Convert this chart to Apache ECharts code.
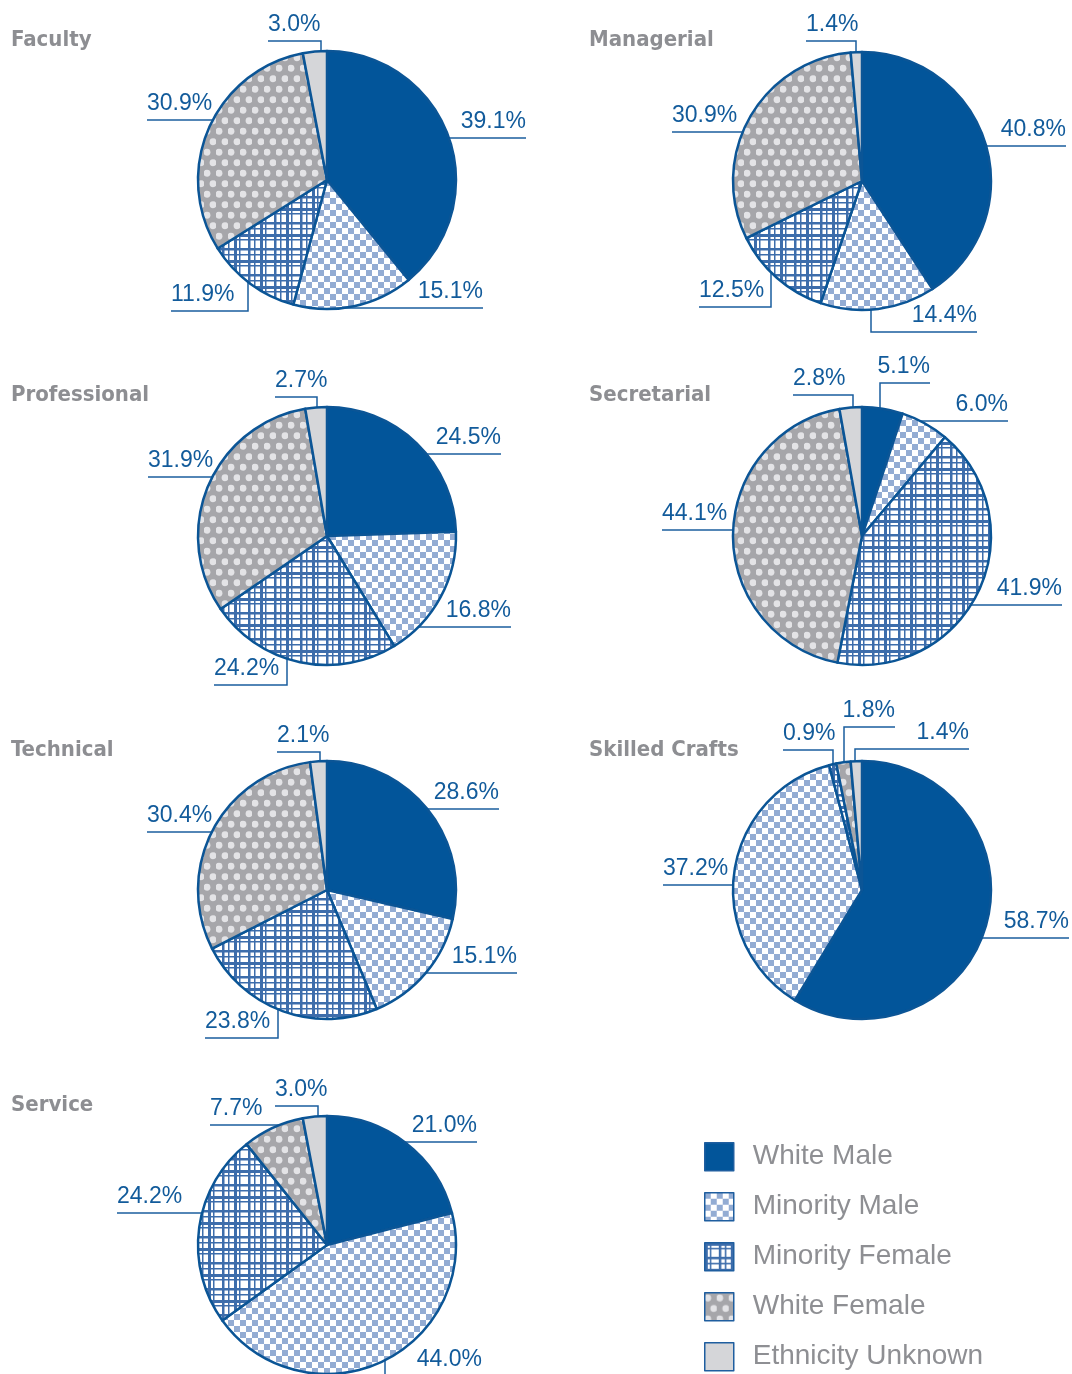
<!DOCTYPE html>
<html><head><meta charset="utf-8">
<script src="https://cdn.jsdelivr.net/npm/echarts@6/dist/echarts.min.js"></script>
<style>html,body{margin:0;padding:0;background:#fff}#c{width:1072px;height:1374px}</style>
</head><body><div id="c"></div>
<script>
// ---------- DATA ----------
const categories = ['White Male','Minority Male','Minority Female','White Female','Ethnicity Unknown'];
const groups = ['Faculty','Managerial','Professional','Secretarial','Technical','Skilled Crafts','Service'];
const faculty       = [39.1, 15.1, 11.9, 30.9, 3.0];
const managerial    = [40.8, 14.4, 12.5, 30.9, 1.4];
const professional  = [24.5, 16.8, 24.2, 31.9, 2.7];
const secretarial   = [5.1, 6.0, 41.9, 44.1, 2.8];
const technical     = [28.6, 15.1, 23.8, 30.4, 2.1];
const skilledCrafts = [58.7, 37.2, 0.9, 1.8, 1.4];
const service       = [21.0, 44.0, 24.2, 7.7, 3.0];
const groupValues = [faculty, managerial, professional, secretarial, technical, skilledCrafts, service];

// ---------- LAYOUT / STYLE ----------
const PIE_R = 129;
const CENTERS = [[327,180],[862,181],[327,536],[862,536],[327,890],[862,890],[327,1245]];
const TITLE_POS = [[11,29],[589,29],[11,384],[589,384],[11,739],[589,739],[11,1094]];
// label guides relative to pie centre: h = horizontal line at y to x; v = vertical at v, then horizontal at y to x
const GUIDES = [
  [{y:-42,x:199},{y:128,x:156},{v:-79,y:131,x:-156},{y:-60,x:-180},{v:-6,y:-139,x:-59}],
  [{y:-35,x:204},{v:9,y:151,x:115},{v:-91,y:126,x:-163},{y:-49,x:-190},{v:-6,y:-140,x:-56}],
  [{y:-82,x:174},{y:91,x:184},{v:-40,y:149,x:-113},{y:-59,x:-179},{v:-10,y:-139,x:-52}],
  [{v:18,y:-153,x:68},{y:-115,x:146},{y:69,x:200},{y:-6,x:-200},{v:-9,y:-141,x:-69}],
  [{y:-81,x:172},{y:83,x:190},{v:-49,y:148,x:-122},{y:-58,x:-180},{v:-7,y:-138,x:-50}],
  [{y:48,x:207},{y:-5,x:-199},{v:-29,y:-140,x:-79},{v:-18,y:-163,x:33},{v:-7,y:-141,x:107}],
  [{y:-103,x:150},{v:58,y:131,x:155},{y:-32,x:-210},{y:-120,x:-117},{v:-9,y:-139,x:-52}]
];

function makeCanvas(w,h,draw){const c=document.createElement('canvas');c.width=w;c.height=h;draw(c.getContext('2d'),w,h);return c;}
const checker = makeCanvas(12,12,(g)=>{g.fillStyle='#ffffff';g.fillRect(0,0,12,12);g.fillStyle='#93acd3';g.fillRect(0,0,6,6);g.fillRect(6,6,6,6);});
const plaid = makeCanvas(26,26,(g)=>{g.fillStyle='#ffffff';g.fillRect(0,0,26,26);g.fillStyle='#3d6dab';
  [[0,3],[5,1.5],[14,2.5],[20,1.5]].forEach(([p,w])=>{g.fillRect(p,0,w,26);g.fillRect(0,p,26,w);});});
const dots = makeCanvas(12,21,(g)=>{g.fillStyle='#a6a6aa';g.fillRect(0,0,12,21);g.fillStyle='#e3e3e6';
  [[3,5.25],[9,15.75]].forEach(([x,y])=>{g.beginPath();g.arc(x,y,3.4,0,Math.PI*2);g.fill();});});
const FILLS = ['#02559a', {image:checker,repeat:'repeat'}, {image:plaid,repeat:'repeat'}, {image:dots,repeat:'repeat'}, '#d5d6d9'];

const BLUE_TEXT = '#125b9b';
const LABEL_FONT = "'Liberation Sans', Arial, sans-serif";

function makeLayout(i){
  const [cx,cy] = CENTERS[i];
  return function(params){
    const s = GUIDES[i][params.dataIndex];
    const ly = cy + s.y, ox = cx + s.x;
    const side = s.x > 0 ? 1 : -1;
    let pts;
    if (s.v === undefined) {
      const ex = cx + side*Math.sqrt(Math.max(0, PIE_R*PIE_R - s.y*s.y));
      pts = [[ex,ly],[(ex+ox)/2,ly],[ox,ly]];
    } else {
      const vx = cx + s.v;
      const ey = cy + (s.y>0?1:-1)*Math.sqrt(Math.max(0, PIE_R*PIE_R - s.v*s.v));
      pts = [[vx,ey],[vx,ly],[ox,ly]];
    }
    return {x: ox, y: ly - 5, align: side>0?'right':'left', verticalAlign:'bottom', labelLinePoints: pts};
  };
}

const chart = echarts.init(document.getElementById('c'), null, {renderer:'canvas'});
chart.setOption({
  backgroundColor:'#ffffff',
  animation:false,
  title: groups.map((g,i)=>({text:g, left:TITLE_POS[i][0], top:TITLE_POS[i][1], padding:0,
    textStyle:{fontSize:22, fontWeight:'bold', color:'#8d8e92', fontFamily:"'Liberation Sans Narrow','DejaVu Sans Condensed',sans-serif"}})),
  legend:{orient:'vertical', left:704, top:1142, height:300, padding:0, itemWidth:29, itemHeight:28, itemGap:20.5, icon:'rect', selectedMode:false,
    data:categories,
    itemStyle:{borderColor:'#1f5e9f', borderWidth:1.5},
    textStyle:{fontSize:28, lineHeight:28, color:'#8e8f93', fontFamily:LABEL_FONT, padding:[0,0,0,14]}},
  series: groupValues.map((vals,i)=>({
    type:'pie', name:groups[i], center:CENTERS[i], radius:PIE_R, startAngle:90, clockwise:true,
    avoidLabelOverlap:false, silent:true,
    itemStyle:{borderColor:'#0b5596', borderWidth:2.5},
    label:{show:true, position:'outside', formatter:(p)=>p.value.toFixed(1)+'%', color:BLUE_TEXT, fontSize:23, fontFamily:LABEL_FONT},
    labelLine:{show:true, length:5, length2:5, smooth:false, lineStyle:{color:'#1a5e9e', width:1.5}},
    labelLayout: makeLayout(i),
    data: vals.map((v,k)=>({name:categories[k], value:v, itemStyle:{color:FILLS[k]}}))
  }))
});
</script></body></html>
